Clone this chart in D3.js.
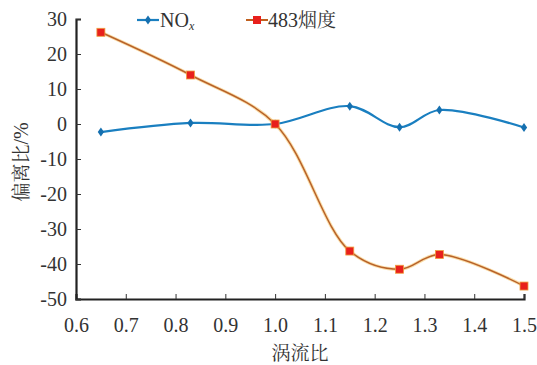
<!DOCTYPE html>
<html><head><meta charset="utf-8">
<script src="https://cdn.jsdelivr.net/npm/d3@7"></script>
<style>body{margin:0;background:#fff}svg{display:block}</style>
</head><body><svg id="c" width="537" height="365"></svg>
<script>
const xValues = [0.65, 0.83, 1.0, 1.15, 1.25, 1.33, 1.5];
const noxValues = [-2.3, 0.3, 0.0, 5.1, -0.9, 4.0, -1.0];
const smokeValues = [26.2, 14.0, 0.0, -36.3, -41.5, -37.3, -46.3];
const xTicks = [0.6, 0.7, 0.8, 0.9, 1.0, 1.1, 1.2, 1.3, 1.4, 1.5];
const yTicks = [30, 20, 10, 0, -10, -20, -30, -40, -50];

const FONT = '"Liberation Serif"';
const CJK = '"Noto Serif CJK SC"';
const svg = d3.select("#c");
const x = d3.scaleLinear().domain([0.6, 1.5]).range([76, 524]);
const y = d3.scaleLinear().domain([-50, 30]).range([299, 19]);

// axes
const gx = svg.append("g").attr("transform", "translate(0,299)")
  .call(d3.axisBottom(x).tickValues(xTicks).tickSize(-5).tickPadding(19).tickFormat(d3.format(".1f")));
const gy = svg.append("g").attr("transform", "translate(76,0)")
  .call(d3.axisLeft(y).tickValues(yTicks).tickSize(-5).tickPadding(9).tickFormat(d => d));
[gx, gy].forEach(g => {
  g.attr("font-family", null).attr("font-size", null);
  g.select(".domain").attr("stroke", "#222").attr("stroke-width", 2.2);
  g.selectAll(".tick line").attr("stroke", "#333").attr("stroke-width", 1);
  g.selectAll(".tick text").style("font-family", FONT).style("font-size", "20px").attr("fill", "#333");
});
gx.select(".tick line").remove();

// lines
const line = vals => d3.line().x((d, i) => x(xValues[i])).y(d => y(d)).curve(d3.curveCatmullRom.alpha(0.5))(vals);
svg.append("path").attr("d", line(smokeValues)).attr("fill", "none").attr("stroke", "#f7c870").attr("stroke-width", 3.4).attr("opacity", 0.6);
svg.append("path").attr("d", line(smokeValues)).attr("fill", "none").attr("stroke", "#b8622a").attr("stroke-width", 1.5);
svg.append("path").attr("d", line(noxValues)).attr("fill", "none").attr("stroke", "#1a7fc0").attr("stroke-width", 2.2);

// markers
const diamond = (cx, cy, s) => `M${cx},${cy - s}L${cx + s * 0.7},${cy}L${cx},${cy + s}L${cx - s * 0.7},${cy}Z`;
svg.selectAll(".nm").data(noxValues).enter().append("path")
  .attr("d", (d, i) => diamond(x(xValues[i]), y(d), 4.5)).attr("fill", "#1570b0");
svg.selectAll(".sm").data(smokeValues).enter().append("rect")
  .attr("x", (d, i) => x(xValues[i]) - 4).attr("y", d => y(d) - 4)
  .attr("width", 8).attr("height", 8).attr("fill", "#e8201c").attr("stroke", "#f0a040").attr("stroke-width", 0.8);

// legend
svg.append("line").attr("x1", 137).attr("x2", 159).attr("y1", 20).attr("y2", 20).attr("stroke", "#1a7fc0").attr("stroke-width", 2.2);
svg.append("path").attr("d", diamond(148, 20, 4.5)).attr("fill", "#1570b0");
const t1 = svg.append("text").attr("x", 160).attr("y", 27).style("font-family", FONT).style("font-size", "20px").attr("fill", "#333");
t1.append("tspan").text("NO");
t1.append("tspan").text("x").style("font-style", "italic").style("font-size", "12px").attr("dy", 3);
svg.append("line").attr("x1", 246).attr("x2", 268).attr("y1", 20).attr("y2", 20).attr("stroke", "#c0601e").attr("stroke-width", 2);
svg.append("rect").attr("x", 253).attr("y", 16).attr("width", 8).attr("height", 8).attr("fill", "#e8201c");
const t2 = svg.append("text").attr("x", 268).attr("y", 27).style("font-size", "20px").attr("fill", "#333");
t2.append("tspan").style("font-family", FONT).text("483");
t2.append("tspan").style("font-family", CJK).style("font-size", "19px").text("烟度");

// axis titles
svg.append("text").attr("x", 300).attr("y", 360).attr("text-anchor", "middle").style("font-family", CJK).style("font-size", "19px").attr("fill", "#333").text("涡流比");
const t3 = svg.append("text").attr("transform", "translate(28,162) rotate(-90)").attr("text-anchor", "middle").style("font-size", "19px").attr("fill", "#333");
t3.append("tspan").style("font-family", CJK).text("偏离比");
t3.append("tspan").style("font-family", FONT).style("font-size", "20px").text("/%");
</script></body></html>
